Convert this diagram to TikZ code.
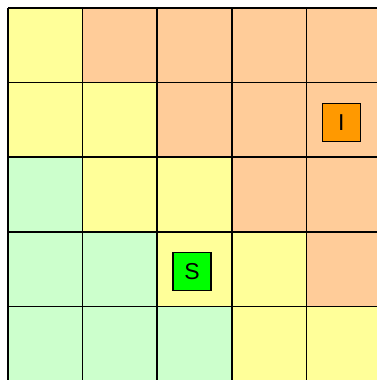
\documentclass[tikz,border=0pt]{standalone}
\usepackage{fontspec}
\setmainfont{Liberation Sans}
\definecolor{cy}{HTML}{FFFF99}
\definecolor{co}{HTML}{FFCC99}
\definecolor{cg}{HTML}{CCFFCC}
\definecolor{bo}{HTML}{FF9900}
\definecolor{bg}{HTML}{00FF00}
\begin{document}
\begin{tikzpicture}[x=1pt,y=-1pt,
  cellbox/.style={draw=black,line width=1.5pt},
  marker/.style={draw=black,line width=1.3pt,minimum width=38pt,minimum height=38pt,inner sep=0pt,font=\fontsize{23}{23}\selectfont}]
\useasboundingbox (0,0) rectangle (377,380);
\clip (0,0) rectangle (377,380);
\fill[white] (0,0) rectangle (377,380);
\def\cs{74.6}
\foreach \row/\cols in {0/{cy,co,co,co,co},1/{cy,cy,co,co,co},2/{cg,cy,cy,co,co},3/{cg,cg,cy,cy,co},4/{cg,cg,cg,cy,cy}}{
  \foreach \c [count=\i from 0] in \cols {
    \fill[\c] ({8+\i*\cs},{8+\row*\cs}) rectangle ++(\cs,\cs);
  }
}
\foreach \i in {0,...,5}{
  \draw[cellbox] ({8+\i*\cs},8) -- ({8+\i*\cs},{8+5*\cs});
  \draw[cellbox] (8,{8+\i*\cs}) -- ({8+5*\cs},{8+\i*\cs});
}
\node[marker,fill=bo] (I) at (341.3,122.5) {I};
\node[marker,fill=bg] (S) at (192,271.7) {S};
\end{tikzpicture}
\end{document}
